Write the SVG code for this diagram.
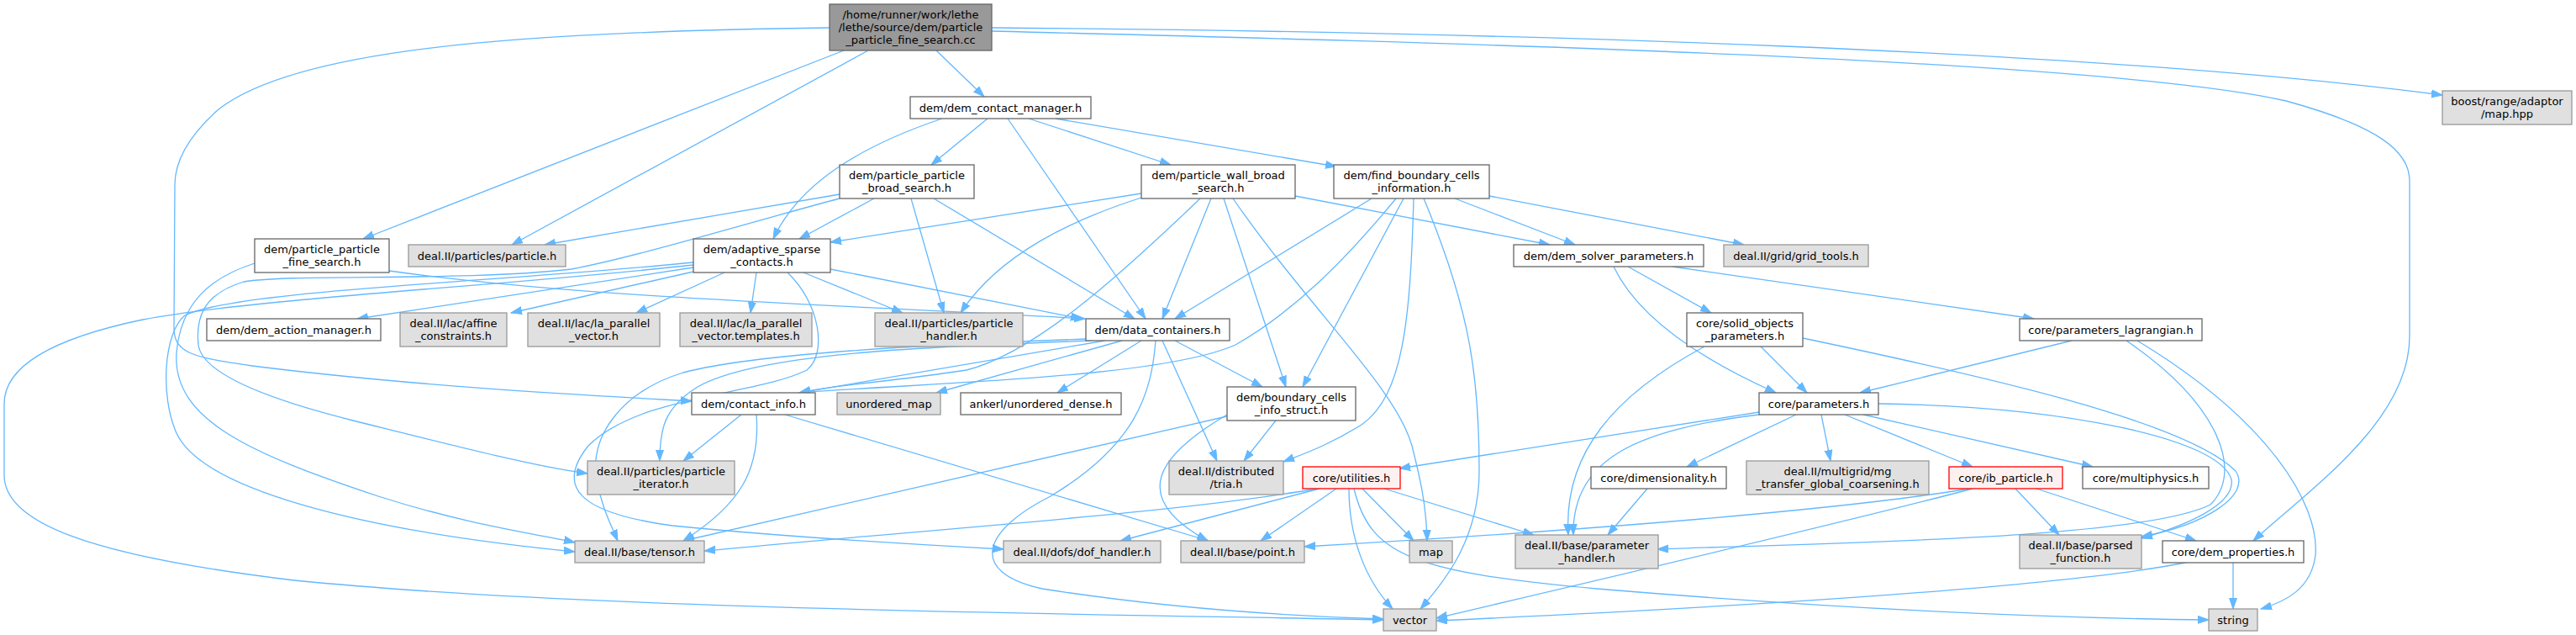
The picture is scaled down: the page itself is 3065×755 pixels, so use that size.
<svg xmlns="http://www.w3.org/2000/svg" width="3065" height="755" viewBox="0 0 3065 755">
<defs>
<marker id="ah" markerUnits="userSpaceOnUse" markerWidth="14" markerHeight="11" refX="13" refY="5" orient="auto">
<path d="M0,0.5 L13,5 L0,9.5 z" fill="#63b8ff" stroke="#63b8ff" stroke-width="1"/>
</marker>
<style>
.e{fill:none;stroke:#63b8ff;stroke-width:1.3;marker-end:url(#ah)}
rect{stroke-width:1.3}
.w{fill:#ffffff;stroke:#666666}
.g{fill:#e0e0e0;stroke:#999999}
.r{fill:#fff0f0;stroke:#ff0000}
.m{fill:#999999;stroke:#666666}
text{font-family:"DejaVu Sans","Liberation Sans",sans-serif;font-size:13px;fill:#000;text-anchor:middle}
</style>
</defs>
<rect width="3065" height="755" fill="#ffffff"/>
<g id="edges">
<path class="e" d="M1004,60 L432,284"/>
<path class="e" d="M1033,60 L609,291"/>
<path class="e" d="M1114,60 L1171,115"/>
<path class="e" d="M1180,33 C1800,38 2500,60 2906,113"/>
<path class="e" d="M1180,37 C1700,50 2500,70 2720,120 C2830,150 2867,180 2867,215 L2867,400 C2867,500 2750,580 2681,643"/>
<path class="e" d="M987,33 C600,38 350,60 260,130 C215,170 208,200 208,220 L207,390 C207,420 230,425 300,435 C500,460 700,470 823,477"/>
<path class="e" d="M1121,141 C1020,175 950,220 920,284"/>
<path class="e" d="M1175,141 L1108,196"/>
<path class="e" d="M1199,141 L1363,379"/>
<path class="e" d="M1224,141 L1393,196"/>
<path class="e" d="M1256,141 L1590,198"/>
<path class="e" d="M463,322 C700,355 1000,362 1291,379"/>
<path class="e" d="M303,313 C250,330 215,360 210,420 C205,500 300,540 450,590 C560,625 640,635 684,645"/>
<path class="e" d="M825,312 C600,335 280,345 220,375 C195,395 190,470 210,515 C240,580 420,630 684,656"/>
<path class="e" d="M825,315 C600,340 300,355 170,380 C50,405 5,440 5,480 L5,565 C5,620 100,660 350,690 C700,725 1300,730 1646,737"/>
<path class="e" d="M999,231 L648,291"/>
<path class="e" d="M999,236 C900,262 760,305 680,320 C550,335 350,325 290,335 C240,350 233,380 236,410 C240,440 300,470 420,500 C560,535 640,555 699,563"/>
<path class="e" d="M1040,236 L951,284"/>
<path class="e" d="M1084,236 L1123,372"/>
<path class="e" d="M1111,236 L1350,379"/>
<path class="e" d="M1358,230 L988,288"/>
<path class="e" d="M1358,235 C1280,260 1190,300 1143,372"/>
<path class="e" d="M1428,236 C1330,330 1230,420 1150,440 C1050,455 990,458 951,467"/>
<path class="e" d="M1441,236 L1383,379"/>
<path class="e" d="M1456,236 L1530,460"/>
<path class="e" d="M1467,236 C1560,370 1660,460 1680,530 C1690,570 1697,600 1698,643"/>
<path class="e" d="M1541,233 L1844,291"/>
<path class="e" d="M1632,236 L1398,379"/>
<path class="e" d="M1661,236 C1600,310 1540,370 1470,410 C1380,450 1100,455 951,467"/>
<path class="e" d="M1670,236 L1550,460"/>
<path class="e" d="M1682,236 C1678,380 1670,470 1620,505 C1580,530 1550,540 1527,549"/>
<path class="e" d="M1694,236 C1750,370 1760,450 1760,560 C1760,640 1720,690 1690,724"/>
<path class="e" d="M1731,236 L1874,291"/>
<path class="e" d="M1772,233 L2075,291"/>
<path class="e" d="M988,320 L1287,379"/>
<path class="e" d="M825,318 L425,379"/>
<path class="e" d="M825,323 L608,372"/>
<path class="e" d="M862,324 L757,372"/>
<path class="e" d="M900,324 L893,372"/>
<path class="e" d="M956,324 L1074,372"/>
<path class="e" d="M937,324 C975,360 985,420 960,440 C900,470 760,470 700,530 C660,580 690,610 800,625 C950,640 1100,648 1194,653"/>
<path class="e" d="M1292,403 C1100,410 900,420 813,443 C740,465 700,520 710,570 C715,600 725,620 735,643"/>
<path class="e" d="M1300,405 C1100,412 900,420 830,460 C790,485 785,510 785,548"/>
<path class="e" d="M1315,405 L951,467"/>
<path class="e" d="M1335,405 L1114,467"/>
<path class="e" d="M1358,405 L1258,467"/>
<path class="e" d="M1375,405 C1370,470 1350,530 1250,590 C1170,630 1150,680 1240,700 C1400,725 1550,733 1646,736"/>
<path class="e" d="M1383,405 L1448,548"/>
<path class="e" d="M1398,405 L1502,460"/>
<path class="e" d="M882,493 L813,548"/>
<path class="e" d="M900,493 C905,560 880,600 813,643"/>
<path class="e" d="M934,493 L1438,643"/>
<path class="e" d="M1518,500 L1480,548"/>
<path class="e" d="M1460,495 L813,643"/>
<path class="e" d="M1460,493 C1380,540 1340,590 1437,643"/>
<path class="e" d="M1567,581 C1400,610 1100,630 838,655"/>
<path class="e" d="M1570,581 L1333,643"/>
<path class="e" d="M1590,581 L1500,643"/>
<path class="e" d="M1621,581 L1682,643"/>
<path class="e" d="M1647,581 L1825,636"/>
<path class="e" d="M1605,581 C1605,640 1625,690 1657,724"/>
<path class="e" d="M1611,581 C1630,660 1680,680 1900,700 C2200,725 2450,735 2628,737"/>
<path class="e" d="M2093,490 L1665,557"/>
<path class="e" d="M2093,493 C1950,510 1870,545 1872,636"/>
<path class="e" d="M2028,412 C1920,470 1860,540 1866,636"/>
<path class="e" d="M2137,493 L2007,555"/>
<path class="e" d="M2167,493 L2178,548"/>
<path class="e" d="M2195,493 L2347,555"/>
<path class="e" d="M2217,493 L2490,555"/>
<path class="e" d="M2235,480 C2450,483 2640,520 2655,570 C2660,600 2600,625 2548,640"/>
<path class="e" d="M2095,412 L2150,467"/>
<path class="e" d="M1920,317 C1950,380 2030,430 2113,467"/>
<path class="e" d="M2145,402 C2350,445 2600,500 2660,560 C2680,590 2620,625 2548,638"/>
<path class="e" d="M2465,405 L2213,467"/>
<path class="e" d="M2530,405 C2640,480 2670,560 2630,600 C2550,640 2200,645 1972,653"/>
<path class="e" d="M2543,405 C2700,500 2760,600 2755,660 C2750,700 2720,715 2690,724"/>
<path class="e" d="M1937,317 L2036,372"/>
<path class="e" d="M1990,317 L2420,379"/>
<path class="e" d="M2398,581 L2450,636"/>
<path class="e" d="M2423,581 L2613,643"/>
<path class="e" d="M2343,581 C2200,605 1900,630 1552,650"/>
<path class="e" d="M2347,581 C2200,620 1900,690 1709,735"/>
<path class="e" d="M1960,581 L1913,636"/>
<path class="e" d="M2605,668 C2450,700 2000,725 1709,738"/>
<path class="e" d="M2657,668 L2657,724"/>
</g>
<g id="n_main"><rect class="m" x="987" y="5" width="193" height="55"/><text x="1083.5" y="21.5">/home/runner/work/lethe</text><text x="1083.5" y="36.5">/lethe/source/dem/particle</text><text x="1083.5" y="51.5">_particle_fine_search.cc</text></g>
<g id="n_cm"><rect class="w" x="1083" y="115" width="215" height="26"/><text x="1190.5" y="132.5">dem/dem_contact_manager.h</text></g>
<g id="n_ppb"><rect class="w" x="999" y="196" width="160" height="40"/><text x="1079" y="213">dem/particle_particle</text><text x="1079" y="228">_broad_search.h</text></g>
<g id="n_pwb"><rect class="w" x="1358" y="196" width="183" height="40"/><text x="1449.5" y="213">dem/particle_wall_broad</text><text x="1449.5" y="228">_search.h</text></g>
<g id="n_fb"><rect class="w" x="1587" y="196" width="185" height="40"/><text x="1679.5" y="213">dem/find_boundary_cells</text><text x="1679.5" y="228">_information.h</text></g>
<g id="n_boost"><rect class="g" x="2906" y="108" width="154" height="40"/><text x="2983" y="125">boost/range/adaptor</text><text x="2983" y="140">/map.hpp</text></g>
<g id="n_fs"><rect class="w" x="303" y="284" width="160" height="40"/><text x="383" y="301">dem/particle_particle</text><text x="383" y="316">_fine_search.h</text></g>
<g id="n_particle"><rect class="g" x="486" y="291" width="187" height="26"/><text x="579.5" y="308.5">deal.II/particles/particle.h</text></g>
<g id="n_as"><rect class="w" x="825" y="284" width="163" height="40"/><text x="906.5" y="301">dem/adaptive_sparse</text><text x="906.5" y="316">_contacts.h</text></g>
<g id="n_dsp"><rect class="w" x="1801" y="291" width="226" height="26"/><text x="1914" y="308.5">dem/dem_solver_parameters.h</text></g>
<g id="n_grid"><rect class="g" x="2051" y="291" width="172" height="26"/><text x="2137" y="308.5">deal.II/grid/grid_tools.h</text></g>
<g id="n_dam"><rect class="w" x="246" y="379" width="207" height="26"/><text x="349.5" y="396.5">dem/dem_action_manager.h</text></g>
<g id="n_affine"><rect class="g" x="476" y="372" width="127" height="40"/><text x="539.5" y="389">deal.II/lac/affine</text><text x="539.5" y="404">_constraints.h</text></g>
<g id="n_lapv"><rect class="g" x="628" y="372" width="157" height="40"/><text x="706.5" y="389">deal.II/lac/la_parallel</text><text x="706.5" y="404">_vector.h</text></g>
<g id="n_lapvt"><rect class="g" x="809" y="372" width="157" height="40"/><text x="887.5" y="389">deal.II/lac/la_parallel</text><text x="887.5" y="404">_vector.templates.h</text></g>
<g id="n_ph"><rect class="g" x="1041" y="372" width="176" height="40"/><text x="1129" y="389">deal.II/particles/particle</text><text x="1129" y="404">_handler.h</text></g>
<g id="n_dc"><rect class="w" x="1292" y="379" width="171" height="26"/><text x="1377.5" y="396.5">dem/data_containers.h</text></g>
<g id="n_so"><rect class="w" x="2007" y="372" width="138" height="40"/><text x="2076" y="389">core/solid_objects</text><text x="2076" y="404">_parameters.h</text></g>
<g id="n_pl"><rect class="w" x="2403" y="379" width="217" height="26"/><text x="2511.5" y="396.5">core/parameters_lagrangian.h</text></g>
<g id="n_ci"><rect class="w" x="823" y="467" width="147" height="26"/><text x="896.5" y="484.5">dem/contact_info.h</text></g>
<g id="n_umap"><rect class="g" x="996" y="467" width="123" height="26"/><text x="1057.5" y="484.5">unordered_map</text></g>
<g id="n_ankerl"><rect class="w" x="1143" y="467" width="191" height="26"/><text x="1238.5" y="484.5">ankerl/unordered_dense.h</text></g>
<g id="n_bs"><rect class="w" x="1460" y="460" width="153" height="40"/><text x="1536.5" y="477">dem/boundary_cells</text><text x="1536.5" y="492">_info_struct.h</text></g>
<g id="n_p"><rect class="w" x="2093" y="467" width="142" height="26"/><text x="2164" y="484.5">core/parameters.h</text></g>
<g id="n_pi"><rect class="g" x="699" y="548" width="175" height="40"/><text x="786.5" y="565">deal.II/particles/particle</text><text x="786.5" y="580">_iterator.h</text></g>
<g id="n_tria"><rect class="g" x="1391" y="548" width="136" height="40"/><text x="1459" y="565">deal.II/distributed</text><text x="1459" y="580">/tria.h</text></g>
<g id="n_ut"><rect class="r" x="1550" y="555" width="116" height="26"/><text x="1608" y="572.5">core/utilities.h</text></g>
<g id="n_dim"><rect class="w" x="1893" y="555" width="161" height="26"/><text x="1973.5" y="572.5">core/dimensionality.h</text></g>
<g id="n_mg"><rect class="g" x="2078" y="548" width="217" height="40"/><text x="2186.5" y="565">deal.II/multigrid/mg</text><text x="2186.5" y="580">_transfer_global_coarsening.h</text></g>
<g id="n_ib"><rect class="r" x="2319" y="555" width="135" height="26"/><text x="2386.5" y="572.5">core/ib_particle.h</text></g>
<g id="n_mp"><rect class="w" x="2478" y="555" width="150" height="26"/><text x="2553" y="572.5">core/multiphysics.h</text></g>
<g id="n_tensor"><rect class="g" x="684" y="643" width="154" height="26"/><text x="761" y="660.5">deal.II/base/tensor.h</text></g>
<g id="n_dof"><rect class="g" x="1194" y="643" width="187" height="26"/><text x="1287.5" y="660.5">deal.II/dofs/dof_handler.h</text></g>
<g id="n_point"><rect class="g" x="1405" y="643" width="147" height="26"/><text x="1478.5" y="660.5">deal.II/base/point.h</text></g>
<g id="n_map"><rect class="g" x="1677" y="643" width="51" height="26"/><text x="1702.5" y="660.5">map</text></g>
<g id="n_phand"><rect class="g" x="1803" y="636" width="170" height="40"/><text x="1888" y="653">deal.II/base/parameter</text><text x="1888" y="668">_handler.h</text></g>
<g id="n_pf"><rect class="g" x="2403" y="636" width="145" height="40"/><text x="2475.5" y="653">deal.II/base/parsed</text><text x="2475.5" y="668">_function.h</text></g>
<g id="n_dp"><rect class="w" x="2573" y="643" width="168" height="26"/><text x="2657" y="660.5">core/dem_properties.h</text></g>
<g id="n_vector"><rect class="g" x="1646" y="724" width="63" height="26"/><text x="1677.5" y="741.5">vector</text></g>
<g id="n_string"><rect class="g" x="2628" y="724" width="58" height="26"/><text x="2657" y="741.5">string</text></g>
</svg>
